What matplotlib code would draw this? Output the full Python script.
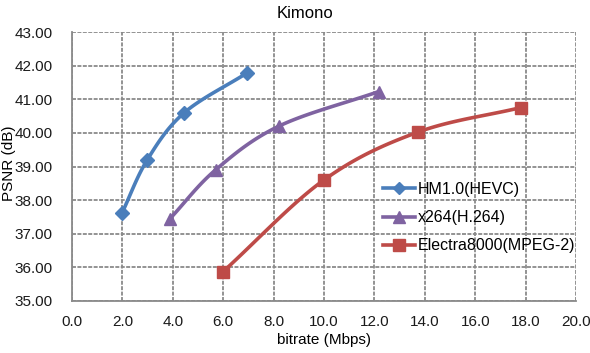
import numpy as np
import matplotlib
matplotlib.use("Agg")
import matplotlib.pyplot as plt

title = "Kimono"
xlabel = "bitrate (Mbps)"
ylabel = "PSNR (dB)"

hm_name = "HM1.0(HEVC)"
hm_x = [1.98, 2.98, 4.44, 6.94]
hm_y = [37.61, 39.19, 40.59, 41.78]

x264_name = "x264(H.264)"
x264_x = [3.89, 5.70, 8.21, 12.18]
x264_y = [37.45, 38.90, 40.20, 41.23]

el_name = "Electra8000(MPEG-2)"
el_x = [5.99, 10.00, 13.72, 17.80]
el_y = [35.87, 38.60, 40.02, 40.75]

xticks = [0, 2, 4, 6, 8, 10, 12, 14, 16, 18, 20]
yticks = [35, 36, 37, 38, 39, 40, 41, 42, 43]

plt.rcParams['font.family'] = ['Liberation Sans', 'DejaVu Sans']


def smooth(xs, ys, n=30):
    # Catmull-Rom style curve through the points (rendering only)
    P = np.column_stack([xs, ys]).astype(float)
    P = np.vstack([2 * P[0] - P[1], P, 2 * P[-1] - P[-2]])
    out = []
    for i in range(1, len(P) - 2):
        p0, p1, p2, p3 = P[i - 1], P[i], P[i + 1], P[i + 2]
        t = np.linspace(0, 1, n)[:, None]
        c = 0.5 * ((2 * p1) + (-p0 + p2) * t + (2 * p0 - 5 * p1 + 4 * p2 - p3) * t ** 2
                   + (-p0 + 3 * p1 - 3 * p2 + p3) * t ** 3)
        out.append(c)
    c = np.vstack(out)
    return c[:, 0], c[:, 1]


fig = plt.figure(figsize=(5.9, 3.53), dpi=100)
ax = fig.add_axes([72 / 590, 1 - 301 / 353, 504 / 590, 269 / 353])

series = [
    (hm_name, hm_x, hm_y, '#4A7EBB', 'D', 7.5),
    (x264_name, x264_x, x264_y, '#7F63A1', '^', 9),
    (el_name, el_x, el_y, '#BE4B48', 's', 9),
]
handles = []
for name, xs, ys, col, mk, ms in series:
    sx, sy = smooth(xs, ys)
    ax.plot(sx, sy, color=col, lw=2.6, solid_capstyle='round', zorder=3)
    ax.plot(xs, ys, linestyle='none', marker=mk, ms=ms, color=col, zorder=4)
    h, = ax.plot([], [], color=col, lw=2.6, marker=mk, ms=ms - 1)
    handles.append((h, name))

ax.set_xlim(0, 20)
ax.set_ylim(35, 43)
ax.set_xticks(xticks)
ax.set_yticks(yticks)
ax.set_xticklabels([f"{v:.1f}" for v in xticks])
ax.set_yticklabels([f"{v:.2f}" for v in yticks])
ax.tick_params(length=0, labelsize=11, colors='#1a1a1a')
ax.tick_params(axis='y', pad=14)
ax.tick_params(axis='x', pad=10)

ax.grid(True, color='#8a8a8a', lw=1.3, linestyle=(0, (2.2, 0.8)))
ax.set_axisbelow(True)
for s in ['top', 'right']:
    ax.spines[s].set_visible(False)
for s in ['left', 'bottom']:
    ax.spines[s].set_color('#8a8a8a')
    ax.spines[s].set_linewidth(1.3)

fig.text(305 / 590, 1 - 13 / 353, title, ha='center', va='center', fontsize=12)
ax.set_xlabel(xlabel, fontsize=11, labelpad=3)
fig.text(9 / 590, 1 - 163 / 353, ylabel, rotation=90, ha='center', va='center', fontsize=11)

leg = ax.legend([h for h, _ in handles], [n for _, n in handles],
                loc='upper left', bbox_to_anchor=(383 / 590, 1 - 182 / 353),
                bbox_transform=fig.transFigure, frameon=False, fontsize=11.5,
                handlelength=2.0, handletextpad=0.15, labelspacing=0.82,
                borderaxespad=0, borderpad=0)

fig.savefig("out.png", dpi=100)
